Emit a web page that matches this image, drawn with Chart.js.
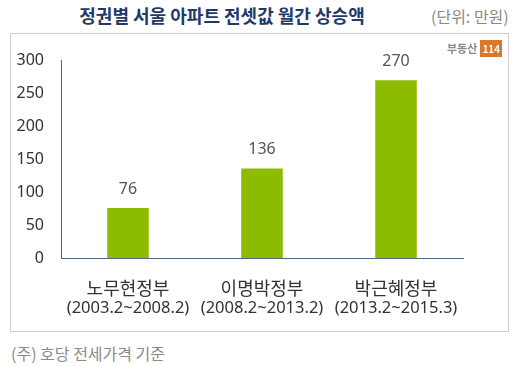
<!DOCTYPE html>
<html>
<head>
<meta charset="utf-8">
<script src="https://cdn.jsdelivr.net/npm/chart.js@4"></script>
<style>
  body { margin: 0; background: #fff; font-family: "Noto Sans CJK KR", "Noto Sans", sans-serif; }
  #wrap { position: relative; width: 519px; height: 367px; }
  #title { position: absolute; left: 0; width: 444px; top: 2px; text-align: center; font-size: 18px; font-weight: bold; color: #1e3a6b; }
  #unit { position: absolute; left: 431px; top: 4px; font-size: 16px; color: #8a8a8a; }
  #box { position: absolute; left: 10px; top: 33px; width: 497px; height: 297px; border: 1px solid #cfcfcf; }
  #note { position: absolute; left: 11px; top: 341px; font-size: 16px; color: #8a8a8a; }
  #logo { position: absolute; left: 447px; top: 40px; font-size: 11px; font-weight: bold; color: #8a8a8a; }
  #logo span { display: inline-block; background: #d9782c; color: #fff; font-size: 10px; padding: 1px 2px; margin-left: 3px; }
</style>
</head>
<body>
<div id="wrap">
  <div id="title">정권별 서울 아파트 전셋값 월간 상승액</div>
  <div id="unit">(단위: 만원)</div>
  <div id="box"><canvas id="chart" width="497" height="297"></canvas></div>
  <div id="logo">부동산<span>114</span></div>
  <div id="note">(주) 호당 전세가격 기준</div>
</div>
<script>
const governments = ['노무현정부', '이명박정부', '박근혜정부'];
const periods = ['(2003.2~2008.2)', '(2008.2~2013.2)', '(2013.2~2015.3)'];
const increase = [76, 136, 270];
const yTicks = [0, 50, 100, 150, 200, 250, 300];

// value labels above bars + two-line category labels
const labelPlugin = {
    id: 'labels',
    afterDatasetsDraw(chart) {
        const ctx = chart.ctx;
        const meta = chart.getDatasetMeta(0);
        const xScale = chart.scales.x;
        ctx.save();
        ctx.textAlign = 'center';
        ctx.textBaseline = 'middle';
        meta.data.forEach((bar, i) => {
            ctx.fillStyle = '#555';
            ctx.font = '16px "Noto Sans", sans-serif';
            ctx.fillText(increase[i], bar.x, bar.y - 19);
        });
        governments.forEach((g, i) => {
            const x = xScale.getPixelForValue(i);
            ctx.fillStyle = '#333';
            ctx.font = '18px "Noto Sans CJK KR", sans-serif';
            ctx.fillText(g, x, xScale.bottom - 73 + 30);
            ctx.font = '16.5px "Noto Sans", sans-serif';
            ctx.fillText(periods[i], x, xScale.bottom - 73 + 50);
        });
        ctx.restore();
    }
};

new Chart(document.getElementById('chart'), {
    type: 'bar',
    data: {
        labels: governments,
        datasets: [{
            data: increase,
            backgroundColor: '#8dbb00',
            barPercentage: 0.31,
            categoryPercentage: 1
        }]
    },
    options: {
        responsive: false,
        animation: false,
        layout: { padding: { top: 15, right: 45, bottom: 0, left: 0 } },
        plugins: { legend: { display: false }, tooltip: { enabled: false } },
        scales: {
            x: {
                grid: { display: false, drawTicks: false },
                border: { color: '#4f6780', width: 1 },
                ticks: { display: false },
                afterFit(scale) { scale.height = 73; }
            },
            y: {
                min: 0,
                max: 300,
                afterBuildTicks(scale) { scale.ticks = yTicks.map(v => ({ value: v })); },
                grid: { display: false, drawTicks: false },
                border: { color: '#4f6780', width: 1 },
                ticks: { color: '#333', padding: 17, font: { size: 16, family: '"Noto Sans", sans-serif' } },
                afterFit(scale) { scale.width = 50; }
            }
        }
    },
    plugins: [labelPlugin]
});
</script>
</body>
</html>
